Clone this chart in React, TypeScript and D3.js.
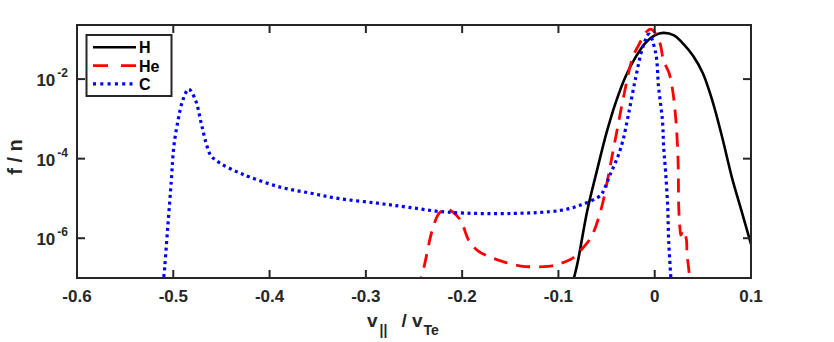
import React from "react";
import * as d3 from "d3";

const width = 834;
const height = 342;
const plot = { left: 77, right: 751, top: 25, bottom: 278 };

// axis ticks
const xTicks = [-0.6, -0.5, -0.4, -0.3, -0.2, -0.1, 0, 0.1];
const yTicks = [1e-6, 1e-4, 1e-2];
const yTickExps = ["-6", "-4", "-2"];

// H (solid black)
const hV = [-0.086, -0.08, -0.07, -0.06, -0.05, -0.04, -0.03, -0.02, -0.01, 0, 0.009, 0.02, 0.03, 0.04, 0.05, 0.06, 0.07, 0.08, 0.09, 0.1];
const hF = [6.3e-8, 2.5e-7, 5.0e-6, 5.0e-5, 4.5e-4, 2.8e-3, 1.2e-2, 3.5e-2, 7.9e-2, 0.126, 0.145, 0.126, 7.6e-2, 3.8e-2, 1.4e-2, 2.8e-3, 3.5e-4, 3.5e-5, 5.0e-6, 7.1e-7];

// He (dashed red)
const heV = [-0.246, -0.2396, -0.231, -0.224, -0.217, -0.21, -0.2015, -0.193, -0.184, -0.17, -0.156, -0.139, -0.111, -0.098, -0.084, -0.077, -0.066, -0.056, -0.049, -0.044, -0.038, -0.033, -0.023, -0.0166, -0.008, -0.004, 0, 0.003, 0.006, 0.009, 0.015, 0.019, 0.022, 0.0239, 0.0245, 0.0249, 0.0262, 0.0272, 0.03, 0.033, 0.0335, 0.035, 0.037];
const heF = [5.0e-8, 1.9e-7, 1.6e-6, 4.2e-6, 5.5e-6, 4.6e-6, 2.8e-6, 8.7e-7, 4.9e-7, 3.3e-7, 2.5e-7, 2.0e-7, 1.95e-7, 2.3e-7, 3.3e-7, 4.9e-7, 1.07e-6, 5.0e-6, 2.9e-5, 1.26e-4, 7.1e-4, 3.0e-3, 3.4e-2, 7.2e-2, 0.16, 0.18, 0.15, 0.107, 7.2e-2, 3.0e-2, 1.4e-2, 4.5e-3, 9.3e-4, 1.6e-4, 5.0e-5, 6.3e-6, 1.8e-6, 1.2e-6, 1.6e-6, 8.9e-7, 4.0e-7, 2.0e-7, 6.3e-8];

// C (dotted blue)
const cV = [-0.512, -0.51, -0.506, -0.502, -0.4995, -0.495, -0.49, -0.484, -0.477, -0.471, -0.466, -0.461, -0.451, -0.435, -0.42, -0.388, -0.357, -0.329, -0.288, -0.256, -0.215, -0.146, -0.098, -0.077, -0.056, -0.053, -0.0457, -0.0384, -0.033, -0.027, -0.0197, -0.0125, -0.006, 0.001, 0.004, 0.008, 0.0093, 0.0114, 0.0135, 0.0145, 0.0166, 0.0175];
const cF = [5.0e-8, 1.0e-7, 1.6e-6, 2.9e-5, 1.95e-4, 9.3e-4, 3.0e-3, 5.6e-3, 3.0e-3, 7.8e-4, 2.5e-4, 1.2e-4, 7.6e-5, 4.8e-5, 3.4e-5, 1.9e-5, 1.35e-5, 1.0e-5, 7.6e-6, 6.0e-6, 4.5e-6, 4.2e-6, 5.0e-6, 6.8e-6, 1.2e-5, 1.6e-5, 4.3e-5, 1.1e-4, 2.9e-4, 1.4e-3, 1.1e-2, 6.2e-2, 0.135, 4.5e-2, 6.3e-3, 9.3e-4, 1.95e-4, 4.3e-5, 6.0e-6, 8.7e-7, 1.15e-7, 5.0e-8];

const seriesNames = ["H", "He", "C"];

const font = "'Liberation Sans', Arial, Helvetica, sans-serif";
const axisColor = "#262626";

const styles = [
  { color: "#000000", width: 2.6, dash: null, legendDash: null },
  { color: "#ff0000", width: 2.8, dash: "14 9", legendDash: "15 13" },
  { color: "#0000ff", width: 3.2, dash: "3 3.6", legendDash: "3 4.3" },
];

const App = () => {
  const x = d3.scaleLinear().domain([-0.6, 0.1]).range([plot.left, plot.right]);
  const y = d3.scaleLog().domain([1e-7, 0.229]).range([plot.bottom, plot.top]);

  const line = d3
    .line<[number, number]>()
    .x((d) => x(d[0]))
    .y((d) => y(d[1]))
    .curve(d3.curveCatmullRom.alpha(0.5));

  const series = [
    hV.map((v, i) => [v, hF[i]] as [number, number]),
    heV.map((v, i) => [v, heF[i]] as [number, number]),
    cV.map((v, i) => [v, cF[i]] as [number, number]),
  ];

  const tick = 8;
  const legend = { x: 86.5, y: 35, w: 85, h: 61 };

  return (
    <svg
      width={width}
      height={height}
      style={{ position: "absolute", left: 0, top: 0, background: "#fff" }}
      fontFamily={font}
      fontWeight="bold"
    >
      <defs>
        <clipPath id="plotclip">
          <rect x={plot.left} y={plot.top} width={plot.right - plot.left} height={plot.bottom - plot.top} />
        </clipPath>
      </defs>

      <g clipPath="url(#plotclip)">
        {series.map((s, i) => (
          <path
            key={seriesNames[i]}
            d={line(s) || ""}
            fill="none"
            stroke={styles[i].color}
            strokeWidth={styles[i].width}
            strokeDasharray={styles[i].dash || undefined}
          />
        ))}
      </g>

      {/* axes box */}
      <rect
        x={plot.left}
        y={plot.top}
        width={plot.right - plot.left}
        height={plot.bottom - plot.top}
        fill="none"
        stroke={axisColor}
        strokeWidth={2}
      />

      {xTicks.map((t) => (
        <g key={"x" + t}>
          <line x1={x(t)} x2={x(t)} y1={plot.bottom} y2={plot.bottom - tick} stroke={axisColor} strokeWidth={2} />
          <line x1={x(t)} x2={x(t)} y1={plot.top} y2={plot.top + tick} stroke={axisColor} strokeWidth={2} />
          <text x={x(t)} y={302} textAnchor="middle" fontSize={17} fill={axisColor}>
            {String(t)}
          </text>
        </g>
      ))}

      {yTicks.map((t, i) => (
        <g key={"y" + t}>
          <line x1={plot.left} x2={plot.left + tick} y1={y(t)} y2={y(t)} stroke={axisColor} strokeWidth={2} />
          <line x1={plot.right} x2={plot.right - tick} y1={y(t)} y2={y(t)} stroke={axisColor} strokeWidth={2} />
          <text x={68} y={y(t) + 7} textAnchor="end" fontSize={17} fill={axisColor}>
            10
            <tspan dx={2} dy={-9} fontSize={12}>
              {yTickExps[i]}
            </tspan>
          </text>
        </g>
      ))}

      {/* axis labels */}
      <text
        transform={`translate(22,157) rotate(-90)`}
        textAnchor="middle"
        fontSize={20}
        fill={axisColor}
      >
        f / n
      </text>
      <text x={367} y={327} fontSize={19} fill={axisColor}>
        v
        <tspan dx={2} dy={8} fontSize={14}>
          ||
        </tspan>
        <tspan dx={14} dy={-8}>
          / v
        </tspan>
        <tspan dx={1} dy={8} fontSize={14}>
          Te
        </tspan>
      </text>

      {/* legend */}
      <rect x={legend.x} y={legend.y} width={legend.w} height={legend.h} fill="#fff" stroke={axisColor} strokeWidth={2} />
      {seriesNames.map((name, i) => {
        const ly = 47.3 + i * 18.3;
        return (
          <g key={"leg" + name}>
            <line
              x1={93}
              x2={136}
              y1={ly}
              y2={ly}
              stroke={styles[i].color}
              strokeWidth={styles[i].width}
              strokeDasharray={styles[i].legendDash || undefined}
            />
            <text x={139} y={ly + 6} fontSize={16} fill="#000">
              {name}
            </text>
          </g>
        );
      })}
    </svg>
  );
};

export default App;
